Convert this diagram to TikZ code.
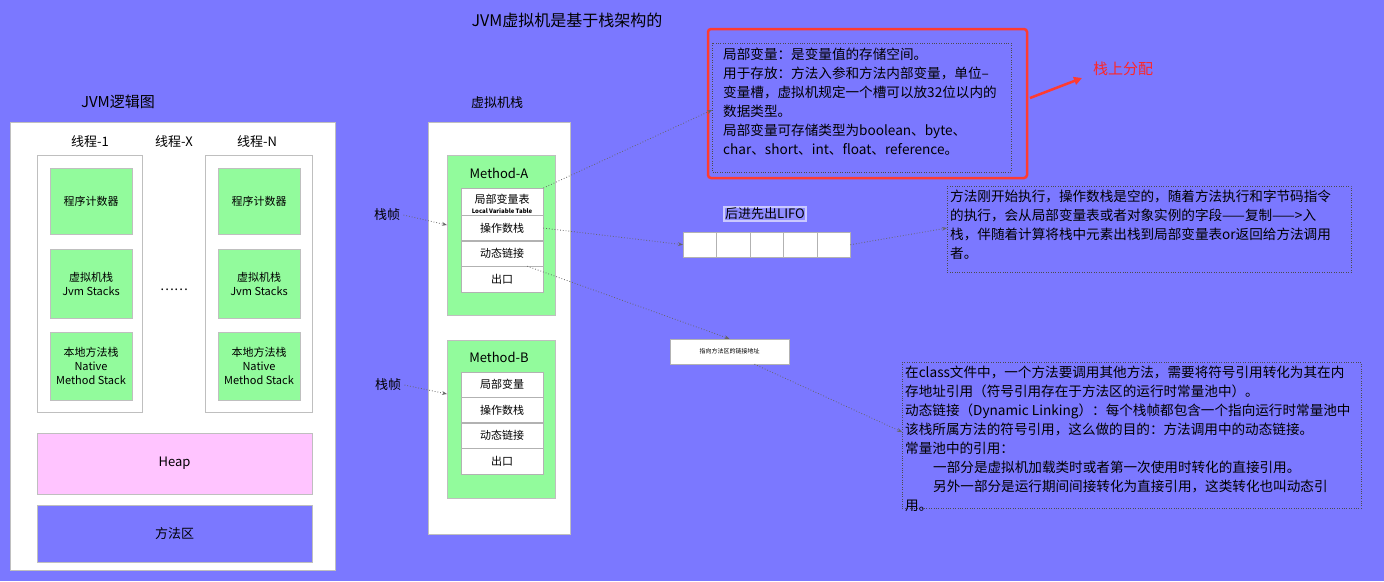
\documentclass[tikz,border=0pt]{standalone}
\usepackage{fontspec}
\setmainfont{Noto Sans CJK SC}
\usetikzlibrary{positioning,arrows.meta}
\definecolor{bgpurple}{HTML}{7B78FF}
\definecolor{jvmgreen}{HTML}{92FB9C}
\definecolor{heappink}{HTML}{FFC4FF}
\definecolor{noteRed}{HTML}{FF3B30}
\tikzset{
    whitebox/.style={draw=black!25, fill=white},
    greenbox/.style={draw=black!25, fill=jvmgreen, align=center, font=\fontsize{11}{14}\selectfont},
    cell/.style={draw=black!30, fill=white, minimum width=82pt, minimum height=25pt, inner sep=0pt, font=\fontsize{11}{13}\selectfont},
    notebox/.style={draw=black!70, dotted},
    note/.style={align=left, anchor=north west, font=\fontsize{13.6}{19}\selectfont, inner sep=0pt},
    dotarrow/.style={draw=black!60, dotted, thick, -{Stealth[length=5pt]}},
    label/.style={font=\fontsize{13}{15}\selectfont}
}
\begin{document}
\begin{tikzpicture}[x=1pt, y=-1pt]
    \fill[bgpurple] (0,0) rectangle (1384,581);
    \useasboundingbox (0,0) rectangle (1384,581);
    \node[font=\fontsize{16}{18}\selectfont] (title) at (567,20) {JVM虚拟机是基于栈架构的};
    % left: logical view
    \node[font=\fontsize{15}{17}\selectfont] (logic) at (118,102) {JVM逻辑图};
    \draw[whitebox] (10,122) rectangle (335,570);
    \draw[whitebox] (37,155) rectangle (142,412);
    \draw[whitebox] (205,155) rectangle (312,412);
    \node[label] (t1) at (90,142) {线程-1};
    \node[label] (tx) at (174,142) {线程-X};
    \node[label] (tn) at (257,142) {线程-N};
    \foreach \x/\n in {91/l, 259/r} {
        \node[greenbox, minimum width=82pt, minimum height=66pt] (pc\n) at (\x,201) {程序计数器};
        \node[greenbox, minimum width=82pt, minimum height=69pt] (vs\n) at (\x,284) {虚拟机栈\\Jvm Stacks};
        \node[greenbox, minimum width=82pt, minimum height=68pt] (ns\n) at (\x,366) {本地方法栈\\Native\\Method Stack};
    }
    \node[label] (dots) at (174,290) {……};
    \node[draw=black!25, fill=heappink, minimum width=275pt, minimum height=61pt, label] (heap) at (174.5,463.5) {Heap};
    \node[draw=black!25, fill=bgpurple, minimum width=275pt, minimum height=57pt, label] (marea) at (174.5,533.5) {方法区};
    % middle: VM stack
    \node[label] (vmlabel) at (497,103) {虚拟机栈};
    \draw[whitebox] (428,122) rectangle (570,534);
    \draw[greenbox] (447,155) rectangle (555,315);
    \node[label] (ma) at (499,173) {Method-A};
    \node[cell, anchor=north west, minimum height=27pt] (lvA) at (461,188) {};
    \node[font=\fontsize{11}{13}\selectfont] at (502,199) {局部变量表};
    \node[font=\bfseries\fontsize{6}{7}\selectfont] at (502,211) {Local Variable Table};
    \node[cell, below=0pt of lvA] (osA) {操作数栈};
    \node[cell, below=0pt of osA] (dlA) {动态链接};
    \node[cell, below=0pt of dlA, minimum height=26pt] (exA) {出口};
    \draw[greenbox] (447,340) rectangle (555,498);
    \node[label] (mb) at (499,357) {Method-B};
    \node[cell, anchor=north west] (lvB) at (461,372) {局部变量};
    \node[cell, below=0pt of lvB] (osB) {操作数栈};
    \node[cell, below=0pt of osB] (dlB) {动态链接};
    \node[cell, below=0pt of dlB, minimum height=26pt] (exB) {出口};
    \node[label] (frA) at (387,215) {栈帧};
    \node[label] (frB) at (388,385) {栈帧};
    \coordinate (frAin) at (447,225);
    \coordinate (frBin) at (447,394);
    \draw[dotarrow] (frA.east) -- (frAin);
    \draw[dotarrow] (frB.east) -- (frBin);
    % operand stack picture
    \node[draw=white!60!bgpurple, line width=2pt, fill=bgpurple!85!white, inner sep=1pt, font=\fontsize{13}{15}\selectfont] (lifo) at (765,214) {后进先出LIFO};
    \foreach \i in {0,...,4} {
        \node[draw=black!30, fill=white, minimum width=33.4pt, minimum height=25pt, inner sep=0pt, anchor=north west] (c\i) at (683+33.4*\i,232) {};
    }
    % notes
    \draw[noteRed, line width=2.5pt, rounded corners=3pt] (708,29) rectangle (1027,178);
    \draw[notebox] (712,43) rectangle (1011,172);
    \coordinate (lvnote) at (712,110);
    \node[note] (lvtext) at (723,48) {局部变量：是变量值的存储空间。\\用于存放：方法入参和方法内部变量，单位–\\变量槽，虚拟机规定一个槽可以放32位以内的\\数据类型。\\局部变量可存储类型为boolean、byte、\\char、short、int、float、reference。};
    \node[text=red!85!white, font=\fontsize{15}{17}\selectfont] (alloc) at (1123,69) {栈上分配};
    \draw[noteRed, line width=2.5pt, -{Triangle[length=8pt,width=8pt]}] (1030,98) -- (1082,78);
    \draw[notebox] (947,186) rectangle (1351,272);
    \coordinate (osnote) at (947,228);
    \node[note] (ostext) at (950,190) {方法刚开始执行，操作数栈是空的，随着方法执行和字节码指令\\的执行，会从局部变量表或者对象实例的字段——复制——>入\\栈，伴随着计算将栈中元素出栈到局部变量表or返回给方法调用\\者。};
    \node[draw=black!30, fill=white, minimum width=119pt, minimum height=25pt, font=\fontsize{6}{7}\selectfont] (link) at (729.5,351.5) {指向方法区的链接地址};
    \draw[notebox] (902,362) rectangle (1361,508);
    \coordinate (dlnote) at (902,432);
    \node[note] (dltext) at (905,366) {在class文件中，一个方法要调用其他方法，需要将符号引用转化为其在内\\存地址引用（符号引用存在于方法区的运行时常量池中）。\\动态链接（Dynamic Linking）：每个栈帧都包含一个指向运行时常量池中\\该栈所属方法的符号引用，这么做的目的：方法调用中的动态链接。\\常量池中的引用：\\\hspace*{28pt}一部分是虚拟机加载类时或者第一次使用时转化的直接引用。\\\hspace*{28pt}另外一部分是运行期间间接转化为直接引用，这类转化也叫动态引\\用。};
    % connectors
    \draw[dotarrow] (lvA.north east) -- (lvnote);
    \draw[dotarrow] (osA.east) -- (c0.west);
    \draw[dotarrow] (c4.east) -- (osnote);
    \draw[dotarrow] (dlA.south) ++(25pt,0) -- (link.north);
    \draw[dotarrow] (link.south) ++(25pt,0) -- (dlnote);
\end{tikzpicture}
\end{document}
